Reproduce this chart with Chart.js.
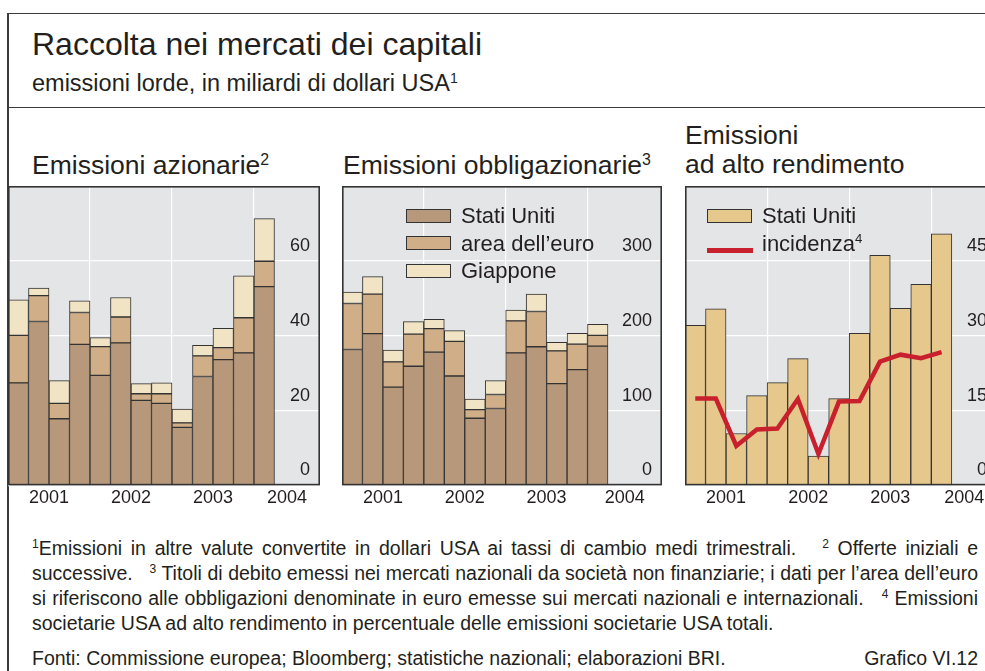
<!DOCTYPE html>
<html><head><meta charset="utf-8">
<title>Raccolta nei mercati dei capitali</title>
<script src="https://cdn.jsdelivr.net/npm/chart.js@4.4.1/dist/chart.umd.min.js"></script>
<style>
    body { margin: 0; width: 985px; height: 671px; overflow: hidden; background: #fff; color: #231f20;
           font-family: 'Liberation Sans', Arial, sans-serif; position: relative; }
    .linea { position: absolute; background: #3c3c3c; }
    .testo { position: absolute; white-space: nowrap; }
    .apice { font-size: 0.6em; position: relative; top: -0.55em; }
    canvas { position: absolute; }
    .leg { position: absolute; font-size: 22px; line-height: 27.7px; white-space: nowrap; }
    .leg div { position: relative; padding-left: 55px; }
    .box { position: absolute; left: 0; top: 6.5px; width: 43px; height: 12px; border: 1.4px solid #333; }
    .tratto { position: absolute; left: 0; top: 18px; width: 46px; height: 5px; background: #c8202d; }
    .nota { position: absolute; left: 32px; width: 946px; font-size: 19.5px; line-height: 25px; }
    .giust { text-align: justify; text-align-last: justify; white-space: nowrap; }
    .nota sup { font-size: 12px; vertical-align: 0; position: relative; top: -7px; }
</style></head>
<body>
    <div class="linea" style="left:7px; top:12.5px; width:990px; height:1.5px;"></div>
    <div class="linea" style="left:7px; top:12.5px; width:1.5px; height:700px;"></div>
    <div class="linea" style="left:7px; top:106.5px; width:990px; height:1.5px;"></div>

    <div class="testo" style="left:32px; top:28px; font-size:32px; line-height:32px;">Raccolta nei mercati dei capitali</div>
    <div class="testo" style="left:32px; top:72px; font-size:23.5px; line-height:23.5px;">emissioni lorde, in miliardi di dollari USA<span class="apice">1</span></div>

    <div class="testo" style="left:32px; top:151px; font-size:26.5px; line-height:29px;">Emissioni azionarie<span class="apice">2</span></div>
    <div class="testo" style="left:343px; top:151px; font-size:26.5px; line-height:29px;">Emissioni obbligazionarie<span class="apice">3</span></div>
    <div class="testo" style="left:685px; top:121px; font-size:26.5px; line-height:29px;">Emissioni<br>ad alto rendimento</div>

    <canvas id="c1" width="312" height="325" style="left:8px; top:186px;"></canvas>
    <canvas id="c2" width="320" height="325" style="left:342px; top:186px;"></canvas>
    <canvas id="c3" width="312" height="325" style="left:685px; top:186px;"></canvas>

    <div class="leg" style="left:406px; top:202px;">
        <div><span class="box" style="background:#b8987a"></span>Stati Uniti</div>
        <div><span class="box" style="background:#d0ae88"></span>area dell’euro</div>
        <div><span class="box" style="background:#f1e4c4"></span>Giappone</div>
    </div>
    <div class="leg" style="left:707px; top:202px;">
        <div><span class="box" style="background:#e6c88c"></span>Stati Uniti</div>
        <div><span class="tratto"></span>incidenza<span class="apice">4</span></div>
    </div>

    <div class="nota giust" style="top:536px;"><sup>1</sup>Emissioni in altre valute convertite in dollari USA ai tassi di cambio medi trimestrali. &nbsp; <sup>2</sup> Offerte iniziali e</div>
    <div class="nota giust" style="top:561px;">successive. &nbsp; <sup>3</sup> Titoli di debito emessi nei mercati nazionali da società non finanziarie; i dati per l’area dell’euro</div>
    <div class="nota giust" style="top:586px;">si riferiscono alle obbligazioni denominate in euro emesse sui mercati nazionali e internazionali. &nbsp; <sup>4</sup> Emissioni</div>
    <div class="nota" style="top:611px; white-space:nowrap;">societarie USA ad alto rendimento in percentuale delle emissioni societarie USA totali.</div>
    <div class="nota" style="top:646px; white-space:nowrap;">Fonti: Commissione europea; Bloomberg; statistiche nazionali; elaborazioni BRI.<span style="position:absolute; right:0;">Grafico VI.12</span></div>

<script>
// --- DATI (trimestrali, miliardi di dollari USA) ---
const trimestri = ['2001 T1', '2001 T2', '2001 T3', '2001 T4', '2002 T1', '2002 T2', '2002 T3', '2002 T4',
                   '2003 T1', '2003 T2', '2003 T3', '2003 T4', '2004 T1'];
const anni = [2001, 2002, 2003, 2004];

// Emissioni azionarie
const azStatiUniti = [27.4, 43.8, 17.8, 37.7, 29.4, 38.1, 22.7, 21.9, 15.5, 29.1, 33.6, 35.4, 53.1];
const azAreaEuro   = [12.7, 6.9, 4.1, 8.5, 7.7, 6.9, 1.8, 2.6, 1.2, 5.5, 3.2, 9.4, 6.8];
const azGiappone   = [9.5, 2.0, 6.1, 3.1, 2.4, 5.2, 2.7, 2.9, 3.7, 2.8, 5.2, 11.2, 11.4];

// Emissioni obbligazionarie
const obStatiUniti = [181.6, 202.7, 131.4, 159.2, 178.0, 146.2, 89.7, 102.7, 177.1, 185.2, 135.9, 154.7, 186.1];
const obAreaEuro   = [61.4, 52.9, 33.6, 43.0, 31.4, 46.2, 11.6, 18.8, 42.6, 47.1, 43.9, 34.1, 14.3];
const obGiappone   = [15.3, 23.3, 15.7, 16.6, 12.6, 14.3, 13.9, 18.4, 14.4, 23.3, 11.2, 14.3, 14.8];

// Emissioni ad alto rendimento (Stati Uniti) e incidenza in %
const arStatiUniti = [32.1, 35.4, 10.4, 18.0, 20.6, 25.4, 5.9, 17.4, 30.5, 46.1, 35.5, 40.3, 50.4];
const arIncidenza  = [17.4, 17.4, 7.9, 11.2, 11.4, 17.3, 6.3, 16.8, 16.9, 24.8, 26.2, 25.5, 26.7];

// tick dell'asse verticale
const tickAzionarie = [0, 20, 40, 60];
const tickObbligazionarie = [0, 100, 200, 300];
const tickAltoRend = [0, 15, 30, 45];

// --- STILI ---
const FONT = "'Liberation Sans', Arial, sans-serif";
const COL_TESTO = '#231f20';
const COL_US = '#b8987a', COL_EU = '#d0ae88', COL_JP = '#f1e4c4', COL_AR = '#e6c88c', COL_ROSSO = '#c8202d';

// posizione del trimestre sull'asse (centro del trimestre, in anni)
const posX = trimestri.map(t => {
    const [a, q] = t.split(' T');
    return Number(a) + (Number(q) - 0.5) / 4;
});
const punti = vals => vals.map((v, i) => ({ x: posX[i], y: v }));

const nopad = s => { s.paddingTop = 0; s.paddingBottom = 0; s.paddingLeft = 0; s.paddingRight = 0; };

// sfondo grigio e cornice dell'area del grafico
const cornice = {
    id: 'cornice',
    beforeDraw(chart) {
        const { ctx, chartArea: a } = chart;
        ctx.save();
        ctx.fillStyle = '#e4e5e7';
        ctx.fillRect(a.left, a.top, a.width, a.height);
        ctx.restore();
    },
    afterDatasetsDraw(chart) {
        const { ctx, chartArea: a } = chart;
        ctx.save();
        ctx.strokeStyle = '#333';
        ctx.lineWidth = 1.6;
        ctx.strokeRect(a.left + 0.8, a.top + 0.8, a.width - 1.6, a.height - 1.6);
        ctx.restore();
    }
};

function barra(label, vals, colore) {
    return {
        type: 'bar', label, data: punti(vals), backgroundColor: colore, stack: 'a', order: 1,
        borderColor: '#333', borderWidth: 1, borderSkipped: false,
        barThickness: 'flex', categoryPercentage: 1, barPercentage: 1
    };
}

function grafico(id, datasets, yMax, yTicks, xMax) {
    return new Chart(document.getElementById(id), {
        type: 'bar',
        data: { datasets },
        options: {
            responsive: false,
            animation: false,
            layout: { padding: 0 },
            plugins: { legend: { display: false }, tooltip: { enabled: false } },
            scales: {
                x: {
                    type: 'linear', min: 2001, max: xMax, offset: false,
                    afterBuildTicks: s => { s.ticks = anni.map(v => ({ value: v })); },
                    grid: { color: '#ffffff', lineWidth: 1.2, drawTicks: false, offset: false },
                    border: { display: false },
                    ticks: { display: false },
                    afterFit: nopad
                },
                xl: {
                    type: 'linear', position: 'bottom', min: 2001, max: xMax, offset: false,
                    // etichetta al centro della parte visibile di ogni anno
                    afterBuildTicks: s => {
                        s.ticks = anni.map(a => ({ value: (a + Math.min(a + 1, xMax)) / 2 }));
                    },
                    grid: { display: false, drawTicks: false, offset: false },
                    border: { display: false },
                    ticks: {
                        callback: v => String(Math.floor(v)),
                        font: { family: FONT, size: 18 }, color: COL_TESTO,
                        padding: 2, maxRotation: 0, autoSkip: false
                    },
                    afterFit: nopad
                },
                y: {
                    position: 'right', stacked: true, min: 0, max: yMax,
                    afterBuildTicks: s => { s.ticks = yTicks.map(v => ({ value: v })); },
                    grid: { color: '#ffffff', lineWidth: 1.2, drawTicks: false },
                    border: { display: false },
                    ticks: {
                        mirror: true, padding: -10, labelOffset: -15,
                        font: { family: FONT, size: 18 }, color: COL_TESTO
                    },
                    afterFit: s => { nopad(s); s.width = 0; }
                }
            }
        },
        plugins: [cornice]
    });
}

grafico('c1', [
    barra('Stati Uniti', azStatiUniti, COL_US),
    barra('area dell’euro', azAreaEuro, COL_EU),
    barra('Giappone', azGiappone, COL_JP)
], 80, tickAzionarie, 2004.805);

grafico('c2', [
    barra('Stati Uniti', obStatiUniti, COL_US),
    barra('area dell’euro', obAreaEuro, COL_EU),
    barra('Giappone', obGiappone, COL_JP)
], 400, tickObbligazionarie, 2004.91);

grafico('c3', [
    {
        type: 'line', label: 'incidenza', data: punti(arIncidenza), order: 0,
        borderColor: COL_ROSSO, borderWidth: 4.5, pointRadius: 0, tension: 0, fill: false
    },
    barra('Stati Uniti', arStatiUniti, COL_AR)
], 60, tickAltoRend, 2004.8);
</script>
</body></html>
